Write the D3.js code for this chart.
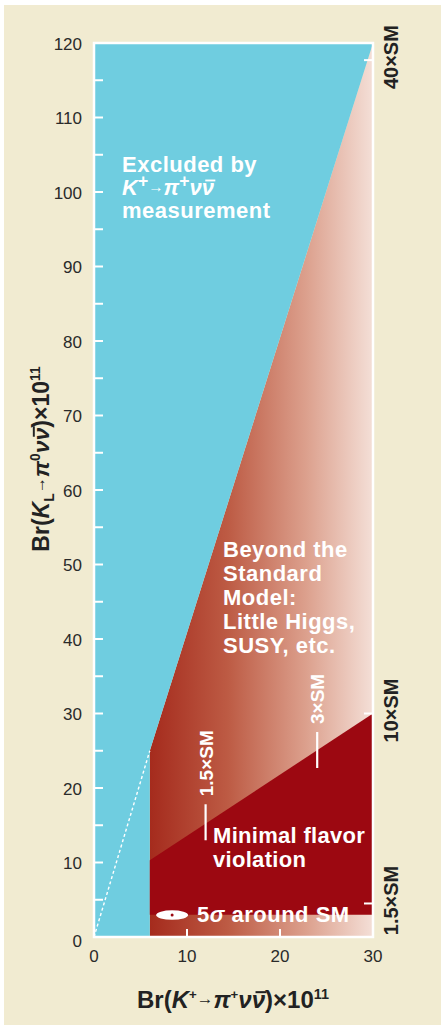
<!DOCTYPE html>
<html><head><meta charset="utf-8">
<script src="https://cdn.jsdelivr.net/npm/d3@7"></script>
<style>
html,body{margin:0;padding:0;background:#fff;}
svg{display:block;font-family:"Liberation Sans",Arial,Helvetica,sans-serif;}
</style></head>
<body>
<svg id="chart" width="441" height="1029"></svg>
<script>
// ---- data ----
const xDomain = [0, 30];
const yDomain = [0, 120];
const xTickValues = [0, 10, 20, 30];
const xInnerTicks = [10, 20];
const yTickLabels = [0, 10, 20, 30, 40, 50, 60, 70, 80, 90, 100, 110, 120];
const yMinorTicks = [5, 10, 15, 20, 25, 30, 35, 40, 45, 50, 55, 60, 65, 70, 75, 80, 85, 90, 95, 100, 105, 110, 115];
const excludedRegion = [[0, 0], [0, 120], [30, 120], [6, 25], [6, 0]];
const bsmRegion = [[6, 0], [6, 25], [30, 120], [30, 0]];
const mfvRegion = [[6, 3], [6, 10.3], [30, 30], [30, 3]];
const grossmanNirLine = [[0, 0], [6, 25]];
const smPoint = [8.4, 2.95];
const innerSMMarkers = [{label: "1.5×SM", x: 12, y: 15.4}, {label: "3×SM", x: 24, y: 25.1}];
const rightSMMarkers = [{label: "40×SM", y: 117.7}, {label: "10×SM", y: 30}, {label: "1.5×SM", y: 4.5}];
const bsmLines = ["Beyond the", "Standard", "Model:", "Little Higgs,", "SUSY, etc."];
const mfvLines = ["Minimal flavor", "violation"];

// ---- setup ----
const svg = d3.select("#chart");
const x = d3.scaleLinear().domain(xDomain).range([94, 373]);
const y = d3.scaleLinear().domain(yDomain).range([937, 43]);
const line = d3.line().x(d => x(d[0])).y(d => y(d[1]));

svg.append("rect").attr("x", 4).attr("y", 5).attr("width", 437).attr("height", 1020).attr("fill", "#f1ebd1");

const defs = svg.append("defs");
const grad = defs.append("linearGradient").attr("id", "bsmGrad")
  .attr("gradientUnits", "userSpaceOnUse")
  .attr("x1", x(6)).attr("x2", x(30)).attr("y1", 0).attr("y2", 0);
[[0, "#a52b1d"], [0.35, "#bd5b44"], [0.7, "#dca08d"], [1, "#f4dfd7"]].forEach(s =>
  grad.append("stop").attr("offset", s[0]).attr("stop-color", s[1]));

svg.append("path").attr("d", line(bsmRegion) + "Z").attr("fill", "url(#bsmGrad)");
svg.append("path").attr("d", line(excludedRegion) + "Z").attr("fill", "#6fcde0");
svg.append("path").attr("d", line(mfvRegion) + "Z").attr("fill", "#9c0811");
svg.append("path").attr("d", line(grossmanNirLine)).attr("fill", "none")
  .attr("stroke", "#fff").attr("stroke-width", 1.4).attr("stroke-dasharray", "3,2.5");

// frame
svg.append("rect").attr("x", x(0)).attr("y", y(120)).attr("width", x(30) - x(0)).attr("height", y(0) - y(120))
  .attr("fill", "none").attr("stroke", "#fff").attr("stroke-width", 2.5);

// ticks
svg.append("g").selectAll("line").data(yMinorTicks).join("line")
  .attr("x1", x(0)).attr("x2", x(0) + 9).attr("y1", d => y(d)).attr("y2", d => y(d))
  .attr("stroke", "#fff").attr("stroke-width", 2);
svg.append("g").selectAll("line").data(xInnerTicks).join("line")
  .attr("x1", d => x(d)).attr("x2", d => x(d)).attr("y1", y(0)).attr("y2", y(0) - 8)
  .attr("stroke", "#fff").attr("stroke-width", 2);
svg.append("g").selectAll("line").data(rightSMMarkers).join("line")
  .attr("x1", x(30) - 9).attr("x2", x(30)).attr("y1", d => y(d.y)).attr("y2", d => y(d.y))
  .attr("stroke", "#fff").attr("stroke-width", 2);

// tick labels
svg.append("g").selectAll("text").data(yTickLabels).join("text")
  .attr("x", x(0) - 12).attr("y", d => y(d) + (d === 0 ? 10 : 6.5))
  .attr("text-anchor", "end").attr("font-size", 17).attr("fill", "#2a2a2a").text(d => d);
svg.append("g").selectAll("text").data(xTickValues).join("text")
  .attr("x", d => x(d)).attr("y", y(0) + 25)
  .attr("text-anchor", "middle").attr("font-size", 17).attr("fill", "#2a2a2a").text(d => d);

// rich text helper: g (with transform) contains text; overlines drawn manually
function rich(g, attrs, segs, fs, color) {
  const t = g.append("text").attr("fill", color).attr("font-weight", "bold");
  Object.entries(attrs).forEach(([k, v]) => t.attr(k, v));
  let shift = 0;
  const overs = [];
  segs.forEach(s => {
    const ts = t.append("tspan").text(s.t);
    let target = 0, size = fs;
    if (s.sup) { target = -fs * 0.38; size = fs * (s.sc || 0.6); }
    else if (s.sub) { target = fs * 0.22; size = fs * (s.sc || 0.6); }
    else if (s.sc) { size = fs * s.sc; target = s.up ? -fs * s.up : 0; }
    ts.attr("dy", target - shift).attr("font-size", size);
    shift = target;
    if (s.it) ts.attr("font-style", "italic");
    if (s.over) overs.push(ts);
  });
  const baseY = +t.attr("y");
  overs.forEach(ts => {
    const e = ts.node().getExtentOfChar(0);
    g.append("line").attr("x1", e.x + fs * 0.16).attr("x2", e.x + e.width + fs * 0.06)
      .attr("y1", baseY - fs * 0.66).attr("y2", baseY - fs * 0.66)
      .attr("stroke", color).attr("stroke-width", fs * 0.085);
  });
  return t;
}

// axis titles
rich(svg.append("g"), {x: 233, y: 1008, "text-anchor": "middle"},
  [{t: "Br("}, {t: "K", it: true}, {t: "+", sup: true, sc: 0.55}, {t: "→", sc: 0.7, up: 0.16}, {t: "π", it: true},
   {t: "+", sup: true, sc: 0.55}, {t: "ν", it: true}, {t: "ν", it: true, over: true}, {t: ")"}, {t: "×"},
   {t: "10"}, {t: "11", sup: true, sc: 0.6}], 24, "#222");

rich(svg.append("g").attr("transform", "translate(49,459) rotate(-90)"), {x: 0, y: 0, "text-anchor": "middle"},
  [{t: "Br("}, {t: "K", it: true}, {t: "L", sub: true, sc: 0.6}, {t: "→", sc: 0.7, up: 0.16}, {t: "π", it: true},
   {t: "0", sup: true, sc: 0.6}, {t: "ν", it: true}, {t: "ν", it: true, over: true}, {t: ")"}, {t: "×"},
   {t: "10"}, {t: "11", sup: true, sc: 0.6}], 23, "#222");

// excluded label
const ex = svg.append("g").attr("fill", "#fff").attr("font-weight", "bold").attr("font-size", 22);
ex.append("text").attr("x", 122).attr("y", 172).attr("letter-spacing", 0.5).text("Excluded by");
rich(ex, {x: 122, y: 195},
  [{t: "K", it: true}, {t: "+", sup: true, sc: 0.8}, {t: "→", sc: 0.7, up: 0.14}, {t: "π", it: true},
   {t: "+", sup: true, sc: 0.8}, {t: "ν", it: true}, {t: "ν", it: true, over: true}], 22, "#fff");
ex.append("text").attr("x", 122).attr("y", 218).attr("letter-spacing", 0.5).text("measurement");

// BSM label
svg.append("g").selectAll("text").data(bsmLines).join("text")
  .attr("x", 223).attr("y", (d, i) => 557 + i * 24)
  .attr("fill", "#fff").attr("font-weight", "bold").attr("font-size", 22).attr("letter-spacing", 0.5).text(d => d);

// MFV label
svg.append("g").selectAll("text").data(mfvLines).join("text")
  .attr("x", 213).attr("y", (d, i) => 843 + i * 24)
  .attr("fill", "#fff").attr("font-weight", "bold").attr("font-size", 22).attr("letter-spacing", 0.3).text(d => d);

// SM point
svg.append("ellipse").attr("cx", x(smPoint[0])).attr("cy", y(smPoint[1])).attr("rx", 16).attr("ry", 4.8).attr("fill", "#fff");
svg.append("circle").attr("cx", x(smPoint[0])).attr("cy", y(smPoint[1])).attr("r", 1.5).attr("fill", "#9c0811");
rich(svg.append("g"), {x: 197, y: 922, "letter-spacing": 0.5},
  [{t: "5"}, {t: "σ", it: true}, {t: " around SM"}], 22, "#fff");

// inner SM markers
innerSMMarkers.forEach(m => {
  svg.append("line").attr("x1", x(m.x)).attr("x2", x(m.x)).attr("y1", y(m.y) - 18).attr("y2", y(m.y) + 18)
    .attr("stroke", "#fff").attr("stroke-width", 2.2);
  svg.append("text").attr("transform", `translate(${x(m.x) + 7},${y(m.y) - 26}) rotate(-90)`)
    .attr("fill", "#fff").attr("font-weight", "bold").attr("font-size", 19).text(m.label);
});

// right SM labels
svg.append("g").selectAll("text").data(rightSMMarkers).join("text")
  .attr("transform", d => `translate(398,${Math.min(y(d.y) - 3, 902)}) rotate(-90)`)
  .attr("text-anchor", "middle").attr("fill", "#222").attr("font-weight", "bold").attr("font-size", 20).text(d => d.label);
</script>
</body></html>
